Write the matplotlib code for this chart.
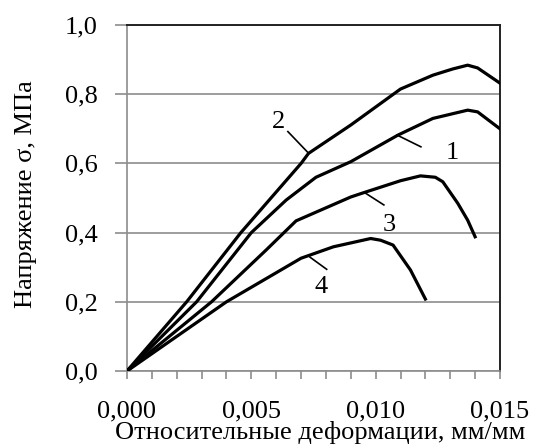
import matplotlib
matplotlib.use('Agg')
from matplotlib import pyplot as plt
from matplotlib.ticker import MultipleLocator, FuncFormatter

# curve data (strain, stress)
strain_1 = [0, 0.0028, 0.0050, 0.0064, 0.0076, 0.0090, 0.0109, 0.0123, 0.0137, 0.0141, 0.0150]
stress_1 = [0, 0.20, 0.40, 0.494, 0.560, 0.605, 0.682, 0.730, 0.754, 0.749, 0.700]

strain_2 = [0, 0.0024, 0.00458, 0.0070, 0.0073, 0.0090, 0.0110, 0.0123, 0.0131, 0.0137, 0.0141, 0.0150]
stress_2 = [0, 0.20, 0.40, 0.60, 0.629, 0.711, 0.815, 0.855, 0.873, 0.884, 0.876, 0.832]

strain_3 = [0, 0.0034, 0.0056, 0.0068, 0.0090, 0.0095, 0.0110, 0.0118, 0.0124, 0.0127, 0.0133, 0.0137, 0.0140]
stress_3 = [0, 0.20, 0.35, 0.434, 0.503, 0.515, 0.550, 0.564, 0.560, 0.547, 0.485, 0.436, 0.388]

strain_4 = [0, 0.0040, 0.0070, 0.0083, 0.0098, 0.0102, 0.0107, 0.0114, 0.0120]
stress_4 = [0, 0.20, 0.326, 0.359, 0.383, 0.378, 0.364, 0.292, 0.208]

# curve labels: text position, leader line start, leader line end
labels = ['1', '2', '3', '4']
label_pos = [(0.01307, 0.629), (0.0061, 0.7205), (0.01055, 0.422), (0.00779, 0.244)]
leader_from = [(0.01182, 0.648), (0.00647, 0.692), (0.01033, 0.480), (0.00803, 0.294)]
leader_to = [(0.01086, 0.682), (0.00731, 0.629), (0.00957, 0.515), (0.00736, 0.329)]

plt.rcParams['font.family'] = ['Liberation Serif', 'DejaVu Serif']
grey = '#8c8c8c'
fs = 19

fig = plt.figure(figsize=(5.34, 4.47), dpi=100)
ax = fig.add_axes([0.2378, 0.170, 0.6985, 0.774])

for xs, ys in [(strain_1, stress_1), (strain_2, stress_2), (strain_3, stress_3), (strain_4, stress_4)]:
    ax.plot(xs, ys, color='black', lw=2.3, solid_joinstyle='round', zorder=3)

for lab, pos, p0, p1 in zip(labels, label_pos, leader_from, leader_to):
    ax.plot([p0[0], p1[0]], [p0[1], p1[1]], color='black', lw=1.2, zorder=3)
    ax.text(pos[0], pos[1], lab, fontsize=fs, ha='center', va='center')

ax.set_xlim(0, 0.015)
ax.set_ylim(0, 1.0)
ax.xaxis.set_major_locator(MultipleLocator(0.005))
ax.xaxis.set_minor_locator(MultipleLocator(0.001))
ax.yaxis.set_major_locator(MultipleLocator(0.2))
ax.xaxis.set_major_formatter(FuncFormatter(lambda v, p: f'{v:.3f}'.replace('.', ',')))
ax.yaxis.set_major_formatter(FuncFormatter(lambda v, p: f'{v:.1f}'.replace('.', ',')))

ax.grid(axis='y', color=grey, lw=1.2)
ax.set_axisbelow(True)
ax.tick_params(axis='x', which='both', direction='out', length=6, width=1.2, color=grey,
               labelsize=fs, pad=15)
ax.tick_params(axis='y', which='major', direction='out', length=9, width=1.2, color=grey,
               labelsize=fs, pad=12)

ax.spines['left'].set_color(grey)
ax.spines['bottom'].set_color(grey)
ax.spines['left'].set_linewidth(1.2)
ax.spines['bottom'].set_linewidth(1.2)
ax.spines['top'].set_color('#222222')
ax.spines['right'].set_color('#222222')
ax.spines['top'].set_linewidth(1.4)
ax.spines['right'].set_linewidth(1.4)

ax.set_xlabel('Относительные деформации, мм/мм', fontsize=fs)
ax.set_ylabel('Напряжение σ, МПа', fontsize=fs)
ax.xaxis.set_label_coords(0.517, -0.145)
ax.yaxis.set_label_coords(-0.24, 0.51)

fig.savefig('out.png', dpi=100)
